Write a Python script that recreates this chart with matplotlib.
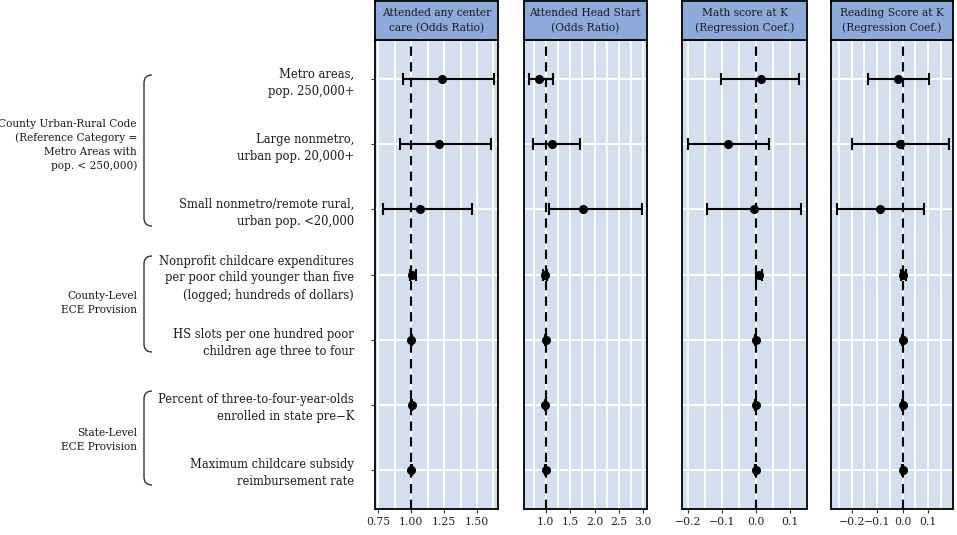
import matplotlib
matplotlib.use("Agg")
import matplotlib.pyplot as plt
from matplotlib.path import Path
from matplotlib.patches import PathPatch
from matplotlib.ticker import MultipleLocator, FuncFormatter

plt.rcParams["font.family"] = ["DejaVu Serif"]

row_labels = [
    "Metro areas,\npop. 250,000+",
    "Large nonmetro,\nurban pop. 20,000+",
    "Small nonmetro/remote rural,\nurban pop. <20,000",
    "Nonprofit childcare expenditures\nper poor child younger than five\n(logged; hundreds of dollars)",
    "HS slots per one hundred poor\nchildren age three to four",
    "Percent of three-to-four-year-olds\nenrolled in state pre\u2212K",
    "Maximum childcare subsidy\nreimbursement rate",
]
panel_titles = [
    "Attended any center\ncare (Odds Ratio)",
    "Attended Head Start\n(Odds Ratio)",
    "Math score at K\n(Regression Coef.)",
    "Reading Score at K\n(Regression Coef.)",
]
ref_lines = [1.0, 1.0, 0.0, 0.0]

# point estimates and confidence bounds, one list per outcome (rows top to bottom)
center_est = [1.237, 1.212, 1.064, 1.010, 1.000, 1.004, 1.000]
center_lo = [0.939, 0.916, 0.783, 0.990, 0.997, 1.001, 0.997]
center_hi = [1.629, 1.604, 1.462, 1.035, 1.003, 1.007, 1.003]

hs_est = [0.863, 1.123, 1.771, 0.990, 1.000, 0.990, 1.000]
hs_lo = [0.658, 0.734, 1.054, 0.950, 0.990, 0.980, 0.990]
hs_hi = [1.136, 1.703, 2.967, 1.030, 1.010, 1.000, 1.010]

math_est = [0.016, -0.081, -0.005, 0.010, 0.000, 0.000, 0.000]
math_lo = [-0.101, -0.198, -0.142, 0.001, -0.002, -0.002, -0.002]
math_hi = [0.128, 0.040, 0.133, 0.019, 0.002, 0.002, 0.002]

read_est = [-0.017, -0.009, -0.089, 0.003, 0.000, 0.001, 0.000]
read_lo = [-0.137, -0.200, -0.259, -0.008, -0.002, -0.001, -0.002]
read_hi = [0.103, 0.181, 0.083, 0.014, 0.002, 0.003, 0.002]

group_labels = [
    "County Urban-Rural Code\n(Reference Category =\nMetro Areas with\npop. < 250,000)",
    "County-Level\nECE Provision",
    "State-Level\nECE Provision",
]

W, H = 957, 535
fig = plt.figure(figsize=(W / 100, H / 100), dpi=100)


def fx(px):
    return px / W


def fy(py):
    return 1 - py / H


panel_x = [(375, 498), (523.5, 646.7), (682.3, 806.7), (830.7, 953.3)]
xlims = [(0.725, 1.66), (0.54, 3.07), (-0.216, 0.150), (-0.282, 0.198)]
majors = [0.25, 0.5, 0.1, 0.1]
tick_fmt = ["{:.2f}", "{:.1f}", "{:.1f}", "{:.1f}"]
series = [
    (center_est, center_lo, center_hi),
    (hs_est, hs_lo, hs_hi),
    (math_est, math_lo, math_hi),
    (read_est, read_lo, read_hi),
]
top, bottom = 40, 509
bg = "#d3deef"
head = "#8eaadb"
ys = list(range(len(row_labels), 0, -1))

for i, ((x0, x1), (est, lo, hi)) in enumerate(zip(panel_x, series)):
    ax = fig.add_axes([fx(x0), fy(bottom), fx(x1 - x0), (bottom - top) / H])
    ax.set_facecolor(bg)
    ax.set_xlim(*xlims[i])
    ax.set_ylim(0.4, 7.6)
    ax.xaxis.set_major_locator(MultipleLocator(majors[i]))
    ax.xaxis.set_minor_locator(MultipleLocator(majors[i] / 2))
    ax.xaxis.set_major_formatter(
        FuncFormatter(lambda v, p, f=tick_fmt[i]: f.format(v).replace("-", "\u2212")))
    ax.grid(True, which="both", axis="x", color="white", lw=1.4)
    ax.set_yticks(ys)
    ax.grid(True, axis="y", color="white", lw=1.4)
    ax.set_axisbelow(True)
    ax.axvline(ref_lines[i], color="black", ls=(0, (4.5, 3)), lw=1.5, zorder=2)
    xerr = [[e - l for e, l in zip(est, lo)], [h - e for e, h in zip(est, hi)]]
    ax.errorbar(est, ys, xerr=xerr, fmt="o", color="black", ms=5.5,
                lw=1.5, capsize=4, capthick=1.5, zorder=3)
    for s in ax.spines.values():
        s.set_color("black")
        s.set_linewidth(1.3)
    ax.tick_params(axis="x", which="minor", length=0)
    ax.tick_params(axis="x", which="major", length=3, labelsize=7.8, pad=3,
                   color="#333333", labelcolor="#222222")
    if i == 0:
        ax.set_yticklabels(row_labels, fontsize=8.3, linespacing=1.4, color="#1a1a1a")
        ax.tick_params(axis="y", length=3, pad=12, color="#333333")
    else:
        ax.tick_params(axis="y", length=0, labelleft=False)

    tax = fig.add_axes([fx(x0), fy(top), fx(x1 - x0), (top - 1) / H])
    tax.set_facecolor(head)
    tax.set_xticks([])
    tax.set_yticks([])
    for s in tax.spines.values():
        s.set_color("black")
        s.set_linewidth(1.3)
    tax.text(0.5, 0.5, panel_titles[i], ha="center", va="center",
             fontsize=7.7, linespacing=1.55, color="#1a1a1a", transform=tax.transAxes)

# group brackets and labels
groups = [(75, 226, 145), (256, 352, 303), (391, 485, 440)]
for (y0, y1, yc), lab in zip(groups, group_labels):
    bx, curl = 144, 8
    verts = [
        (fx(bx + curl), fy(y0)), (fx(bx), fy(y0)), (fx(bx), fy(y0 + curl)),
        (fx(bx), fy(y1 - curl)),
        (fx(bx), fy(y1)), (fx(bx + curl), fy(y1)),
    ]
    codes = [Path.MOVETO, Path.CURVE3, Path.CURVE3, Path.LINETO, Path.CURVE3, Path.CURVE3]
    fig.add_artist(PathPatch(Path(verts, codes), fill=False, lw=1.0,
                             edgecolor="#333333", transform=fig.transFigure))
    fig.text(fx(137), fy(yc), lab, ha="right", va="center", fontsize=7.6,
             linespacing=1.4, color="#1a1a1a")

fig.savefig("out.png", dpi=100)
